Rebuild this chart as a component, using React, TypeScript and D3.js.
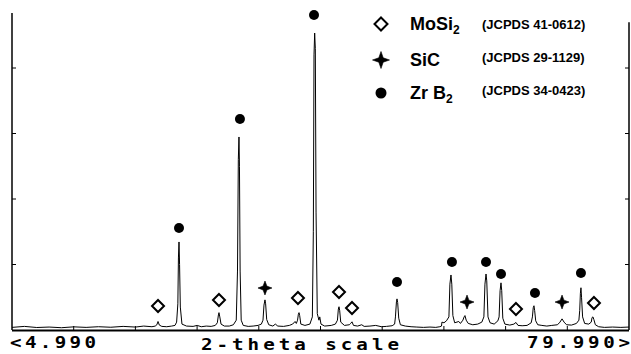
import React from 'react';
import * as d3 from 'd3';

const W = 631;
const H = 354;

// x: 2-theta (degrees), y: intensity (counts, arbitrary)
const xDomain: [number, number] = [4.99, 79.99];
const yTicks = [1000, 2000, 3000, 4000];
const xTickValues = [12.49, 19.99, 27.49, 34.99, 42.49, 49.99, 57.49, 64.99, 72.49];
const xLabelLeft = '<4.990';
const xLabelTitle = '2-theta scale';
const xLabelRight = '79.990>';

// diffraction trace: [2theta, intensity]
const trace: [number, number][] = [
  [4.99, 40], [6.5, 55], [8.0, 38], [9.5, 45], [11.0, 35], [12.5, 48], [14.0, 40], [15.5, 50],
  [17.0, 42], [18.5, 55], [20.0, 45], [21.0, 60], [22.0, 50], [22.4, 60],
  [22.6, 80], [22.74, 130], [22.9, 75], [23.2, 55], [23.8, 50], [24.4, 60], [24.8, 70],
  [25.0, 120], [25.15, 400], [25.22, 1100], [25.29, 1344], [25.36, 1000], [25.45, 350], [25.65, 90],
  [26.2, 60], [27.0, 55], [27.5, 70], [28.0, 50], [28.6, 60], [29.2, 55], [29.7, 70],
  [29.95, 110], [30.08, 230], [30.15, 265], [30.25, 200], [30.4, 90], [30.8, 60], [31.4, 60], [31.9, 80],
  [32.25, 150], [32.4, 900], [32.5, 2600], [32.58, 2947], [32.64, 2500], [32.72, 900], [32.85, 150],
  [33.1, 70], [33.7, 55], [34.3, 60], [34.9, 70], [35.3, 90],
  [35.5, 150], [35.62, 380], [35.74, 460], [35.82, 400], [35.95, 160], [36.2, 80], [36.7, 60],
  [37.0, 90], [37.3, 60], [38.0, 55], [38.7, 70], [39.1, 90], [39.4, 130], [39.55, 100],
  [39.7, 150], [39.8, 240], [39.88, 265], [39.96, 220], [40.1, 90], [40.6, 70], [41.2, 90],
  [41.5, 200], [41.62, 1500], [41.7, 4200], [41.78, 4534], [41.86, 4300], [41.95, 1800], [42.1, 250],
  [42.3, 150], [42.4, 200], [42.55, 90], [43.0, 60], [43.8, 70], [44.3, 90],
  [44.55, 150], [44.66, 320], [44.74, 355], [44.82, 300], [44.95, 120], [45.4, 70], [46.0, 80], [46.15, 100],
  [46.32, 125], [46.5, 70], [47.0, 60], [47.5, 80], [47.8, 55], [48.5, 60], [49.2, 70], [49.9, 50],
  [50.5, 55], [51.2, 65], [51.5, 90],
  [51.6, 200], [51.72, 430], [51.79, 475], [51.87, 420], [52.0, 180], [52.2, 80], [52.8, 60],
  [53.5, 50], [54.2, 45], [55.0, 40], [55.8, 45], [56.5, 40], [57.0, 50], [57.2, 60], [57.25, 120],
  [57.5, 110], [57.8, 140],
  [58.1, 200], [58.22, 700], [58.35, 840], [58.45, 700], [58.58, 220], [58.8, 110], [59.3, 130],
  [59.5, 100], [59.8, 150],
  [59.95, 200], [60.05, 220], [60.2, 150], [60.45, 100], [61.0, 80], [61.6, 90], [62.1, 120],
  [62.35, 200], [62.48, 700], [62.61, 855], [62.7, 750], [62.85, 200], [63.1, 110], [63.6, 90], [64.05, 140],
  [64.2, 200], [64.32, 600], [64.43, 720], [64.52, 600], [64.65, 180], [64.9, 90], [65.5, 75], [66.0, 90],
  [66.25, 115], [66.5, 70], [67.0, 65], [67.6, 70], [68.1, 110],
  [68.25, 200], [68.35, 340], [68.44, 370], [68.52, 300], [68.65, 140], [68.9, 80], [69.4, 70],
  [70.0, 60], [70.6, 70], [71.3, 80], [71.6, 120],
  [71.85, 170], [72.1, 120], [72.4, 80], [73.0, 75], [73.6, 100], [73.9, 150],
  [74.0, 300], [74.08, 560], [74.15, 645], [74.22, 500], [74.35, 200], [74.6, 100], [75.1, 90], [75.4, 120],
  [75.5, 190], [75.61, 200], [75.72, 160], [75.9, 80], [76.3, 50], [77.0, 40], [78.0, 45], [79.0, 40],
  [79.99, 45],
];

// phase markers above peaks
const markerTheta = [22.74, 25.29, 30.15, 32.7, 35.74, 39.75, 41.7, 44.74, 46.32, 51.79,
  58.47, 60.3, 62.61, 64.43, 66.25, 68.56, 71.85, 74.15, 75.73];
const markerPhase = ['MoSi2', 'ZrB2', 'MoSi2', 'ZrB2', 'SiC', 'MoSi2', 'ZrB2', 'MoSi2', 'MoSi2', 'ZrB2',
  'ZrB2', 'SiC', 'ZrB2', 'ZrB2', 'MoSi2', 'ZrB2', 'SiC', 'ZrB2', 'MoSi2'];
const markerLevel = [366, 1557, 458, 3221, 641, 489, 4809, 580, 336, 733,
  1038, 427, 1038, 855, 321, 565, 427, 870, 412];

const legendPhases = ['MoSi2', 'SiC', 'ZrB2'];
const legendMain = ['MoSi', 'SiC', 'Zr B'];
const legendSub = ['2', '', '2'];
const legendRefs = ['(JCPDS 41-0612)', '(JCPDS 29-1129)', '(JCPDS 34-0423)'];

const x = d3.scaleLinear().domain(xDomain).range([12, 629]);
const y = d3.scaleLinear().domain([0, 4000]).range([330, 68]);

function Marker({ phase, cx, cy, big }: { phase: string; cx: number; cy: number; big?: boolean }) {
  if (phase === 'MoSi2') {
    const r = big ? 6.5 : 6;
    return (
      <path
        d={`M${cx},${cy - r}L${cx + r},${cy}L${cx},${cy + r}L${cx - r},${cy}Z`}
        fill="#fff"
        stroke="#000"
        strokeWidth={2}
      />
    );
  }
  if (phase === 'SiC') {
    const r = big ? 8.5 : 7;
    const w = big ? 2.2 : 1.9;
    return (
      <path
        d={`M${cx},${cy - r}L${cx + w},${cy - w}L${cx + r},${cy}L${cx + w},${cy + w}L${cx},${cy + r}L${cx - w},${cy + w}L${cx - r},${cy}L${cx - w},${cy - w}Z`}
        fill="#000"
        stroke="#000"
        strokeWidth={0.6}
        strokeLinejoin="round"
      />
    );
  }
  return <circle cx={cx} cy={cy} r={big ? 5.5 : 5} fill="#000" />;
}

function MonoLabel({ x0, y0, len, text }: { x0: number; y0: number; len: number; text: string }) {
  const sx = 1.2;
  return (
    <text
      transform={`translate(${x0},${y0}) scale(${sx},1)`}
      x={0}
      y={0}
      fontFamily={'"DejaVu Sans Mono", "Liberation Mono", monospace'}
      fontWeight="bold"
      fontSize={16}
      textLength={len / sx}
      lengthAdjust="spacing"
      fill="#000"
    >
      {text}
    </text>
  );
}

export default function App() {
  const line = d3
    .line<[number, number]>()
    .x((d) => x(d[0]))
    .y((d) => y(d[1]));
  const y0 = y(0);
  const yTop = y(4840);
  const sans = '"Liberation Sans", Arial, sans-serif';
  return (
    <svg
      width={W}
      height={H}
      viewBox={`0 0 ${W} ${H}`}
      style={{ position: 'absolute', left: 0, top: 0, background: '#fff' }}
    >
      <rect x={0} y={0} width={W} height={H} fill="#fff" />
      {/* axes */}
      <line x1={x(xDomain[0])} x2={x(xDomain[0])} y1={yTop} y2={y0} stroke="#000" strokeWidth={1.5} />
      <line x1={x(xDomain[1])} x2={x(xDomain[1])} y1={y(4700)} y2={y0} stroke="#000" strokeWidth={1.5} />
      <line x1={x(xDomain[0])} x2={x(xDomain[1])} y1={y0 + 0.5} y2={y0 + 0.5} stroke="#000" strokeWidth={2} />
      {yTicks.map((t) => (
        <g key={t}>
          <line x1={x(xDomain[0])} x2={x(xDomain[0]) + 4} y1={y(t)} y2={y(t)} stroke="#000" strokeWidth={1} />
          <line x1={x(xDomain[1]) - 4} x2={x(xDomain[1])} y1={y(t)} y2={y(t)} stroke="#000" strokeWidth={1} />
        </g>
      ))}
      {xTickValues.map((t) => (
        <line key={t} x1={x(t)} x2={x(t)} y1={y0} y2={y0 - 4} stroke="#000" strokeWidth={1} />
      ))}
      {/* trace */}
      <path d={line(trace) || ''} fill="none" stroke="#000" strokeWidth={1} strokeLinejoin="round" />
      {/* markers */}
      {markerTheta.map((t, i) => (
        <Marker key={i} phase={markerPhase[i]} cx={x(t)} cy={y(markerLevel[i])} />
      ))}
      {/* legend */}
      {legendPhases.map((p, i) => {
        const cy = [24, 60, 93][i];
        const base = [30, 66, 99][i];
        const refBase = [29, 62, 95][i];
        return (
          <g key={p}>
            <Marker phase={p} cx={381} cy={cy} big />
            <text x={410} y={base} fontFamily={sans} fontWeight="bold" fontSize={18} fill="#000">
              {legendMain[i]}
              {legendSub[i] && (
                <tspan fontSize={12} dy={4}>
                  {legendSub[i]}
                </tspan>
              )}
            </text>
            <text x={482} y={refBase} fontFamily={sans} fontWeight="bold" fontSize={13} fill="#000">
              {legendRefs[i]}
            </text>
          </g>
        );
      })}
      {/* x labels */}
      <MonoLabel x0={10} y0={348} len={86} text={xLabelLeft} />
      <MonoLabel x0={201} y0={350} len={198} text={xLabelTitle} />
      <MonoLabel x0={527} y0={348} len={103} text={xLabelRight} />
    </svg>
  );
}
